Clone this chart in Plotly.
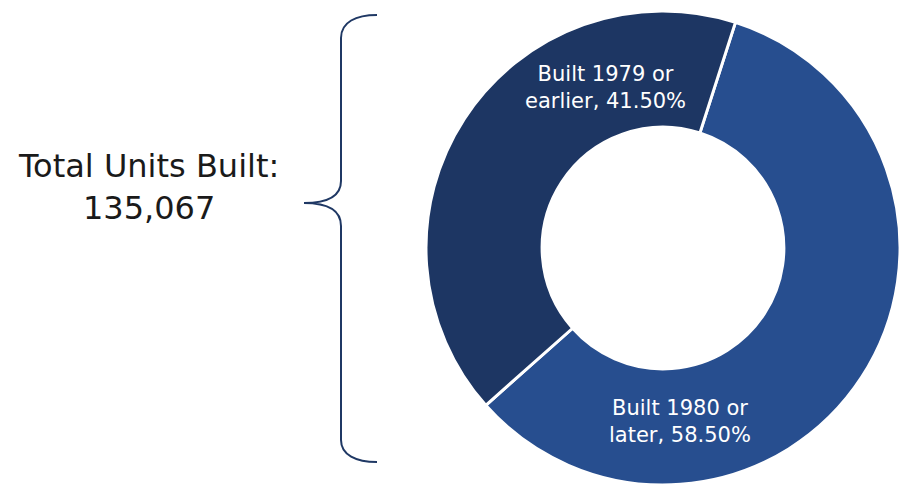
import plotly.graph_objects as go

# Housing stock by year built
categories = ["Built 1980 or later", "Built 1979 or earlier"]
shares = [58.50, 41.50]
label_lines = [("Built 1980 or", "later"), ("Built 1979 or", "earlier")]
total_units = 135067

W, H = 900, 489
FONT = "DejaVu Sans"
DARK = "#1d3663"
LIGHT = "#274e8f"


def px(x, y):
    """Pixel position -> paper coordinates (no margins)."""
    return x / W, 1 - y / H


fig = go.Figure(
    go.Pie(
        labels=categories,
        values=shares,
        sort=False,
        direction="clockwise",
        rotation=17.8,
        hole=0.51,
        textinfo="none",
        hoverinfo="label+percent",
        marker=dict(colors=[LIGHT, DARK], line=dict(color="white", width=3)),
        domain=dict(x=[0.4733, 1.0], y=[0.00818, 0.97751]),
        showlegend=False,
    )
)

annotations = []


def add_text(text, cx, mid_baseline, size, color):
    x, y = px(cx, mid_baseline - 0.35 * size)
    annotations.append(
        dict(
            text=text, x=x, y=y, xref="paper", yref="paper",
            xanchor="center", yanchor="middle", showarrow=False, align="center",
            font=dict(family=FONT, size=size, color=color),
        )
    )


# Slice labels
first, second = label_lines[1]
add_text(f"{first}<br>{second}, {shares[1]:.2f}%", 605, 94.5, 21, "white")
first, second = label_lines[0]
add_text(f"{first}<br>{second}, {shares[0]:.2f}%", 680, 428.5, 21, "white")

# Total caption on the left
add_text(f"Total Units Built:<br>{total_units:,}", 148, 198.5, 32, "#1a1a1a")

# Curly brace joining the caption to the chart
pts = [
    ("M", [(377, 15)]),
    ("C", [(356, 15), (341, 22), (341, 38)]),
    ("L", [(341, 181)]),
    ("C", [(341, 196), (328, 203), (304, 203)]),
    ("C", [(328, 203), (341, 210), (341, 226)]),
    ("L", [(341, 440)]),
    ("C", [(341, 455), (356, 462), (377, 462)]),
]
path = " ".join(
    cmd + " " + " ".join("{:.5f},{:.5f}".format(*px(x, y)) for x, y in p)
    for cmd, p in pts
)

fig.update_layout(
    width=W,
    height=H,
    margin=dict(l=0, r=0, t=0, b=0),
    paper_bgcolor="white",
    plot_bgcolor="white",
    annotations=annotations,
    shapes=[
        dict(type="path", path=path, xref="paper", yref="paper",
             line=dict(color="#1f3864", width=2))
    ],
)

fig.write_html("out.html")
